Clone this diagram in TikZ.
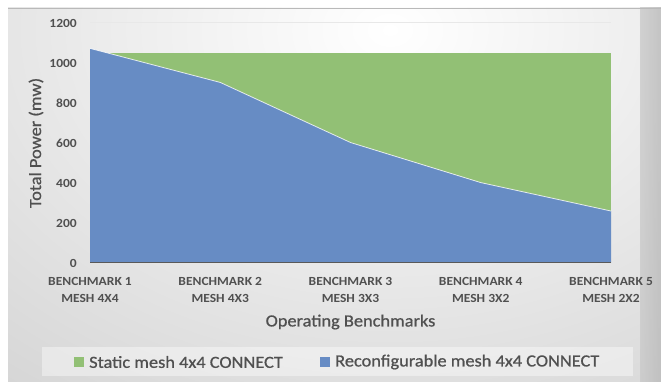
\documentclass[tikz,border=0pt]{standalone}
\usepackage{fontspec}
\setmainfont{Carlito}[FakeStretch=1.09]
\newfontfamily\titlefont{Carlito}[FakeStretch=1.08,FakeBold=0.8]
\definecolor{bgouter}{RGB}{202,202,202}
\definecolor{bgedge}{RGB}{186,186,186}
\definecolor{txt}{RGB}{80,80,80}
\definecolor{seriesblue}{RGB}{103,140,196}
\definecolor{seriesgreen}{RGB}{146,192,117}
\definecolor{gridc}{RGB}{232,232,232}
\tikzset{
  ticklab/.style={text=txt,font=\fontsize{12.4}{12}\selectfont\bfseries,inner sep=0pt},
  catlab/.style={text=txt,font=\fontsize{12.4}{16.5}\selectfont\bfseries,align=center,inner sep=0pt},
  titlelab/.style={text=txt,font=\titlefont\fontsize{17}{18}\selectfont,inner sep=0pt},
  leglab/.style={text=txt,font=\titlefont\fontsize{17}{18}\selectfont,inner sep=0pt,anchor=west},
  legkey/.style={minimum width=10pt,minimum height=10pt,inner sep=0pt},
}
\begin{document}
\begin{tikzpicture}[x=1pt,y=-1pt]
\useasboundingbox (0,0) rectangle (661,382);
\fill[white] (0,0) rectangle (661,382);
% background
\begin{scope}
  \clip (8,8) rectangle (661,382);
  \fill[bgouter] (8,8) rectangle (661,382);
  \shade[inner color=white,outer color=bgouter] (390,30) ellipse [x radius=800pt,y radius=580pt];
  \shade[left color=bgouter,right color=bgedge,opacity=0.8] (640,8) rectangle (661,382);
\end{scope}
\draw[gray!55,line width=0.8pt] (8,8.3) -- (661,8.3);
% gridlines
\foreach \v in {0,200,...,1200}{
  \draw[gridc,line width=0.8pt] (90,{262.7-0.2003*\v}) -- (611,{262.7-0.2003*\v});
}
% static series
\fill[seriesgreen] (90,{262.7-0.2003*1045}) rectangle (611,262.7);
% reconfigurable series
\coordinate (p1) at (90,{262.7-0.2003*1070});
\coordinate (p2) at (220.25,{262.7-0.2003*900});
\coordinate (p3) at (350.5,{262.7-0.2003*600});
\coordinate (p4) at (480.75,{262.7-0.2003*400});
\coordinate (p5) at (611,{262.7-0.2003*258});
\fill[seriesblue] (90,262.7) -- (p1) -- (p2) -- (p3) -- (p4) -- (p5) -- (611,262.7) -- cycle;
\draw[white,opacity=0.8,line width=0.8pt] (p1) -- (p2) -- (p3) -- (p4) -- (p5);
% x axis
\draw[black!65,line width=1pt] (90,262.7) -- (611,262.7);
% y tick labels
\foreach \v [count=\i] in {0,200,400,600,800,1000,1200}{
  \node[ticklab,anchor=east] (yt\i) at (77,{263.5-0.2003*\v}) {\v};
}
% category labels
\node[catlab] (b1) at (90,290) {BENCHMARK 1\\MESH 4X4};
\node[catlab] (b2) at (220.25,290) {BENCHMARK 2\\MESH 4X3};
\node[catlab] (b3) at (350.5,290) {BENCHMARK 3\\MESH 3X3};
\node[catlab] (b4) at (480.75,290) {BENCHMARK 4\\MESH 3X2};
\node[catlab] (b5) at (611,290) {BENCHMARK 5\\MESH 2X2};
% axis titles
\node[titlelab] (xt) at (350.5,322) {Operating Benchmarks};
\node[titlelab,rotate=90] (yt) at (36,143) {Total Power (mw)};
% legend
\fill[white,opacity=0.4] (42,347) rectangle (633,376);
\node[legkey,fill=seriesgreen] (k1) at (79,361.5) {};
\node[leglab] (l1) at (89,362) {Static mesh 4x4 CONNECT};
\node[legkey,fill=seriesblue] (k2) at (325,361.5) {};
\node[leglab] (l2) at (335,362) {Reconfigurable mesh 4x4 CONNECT};
\end{tikzpicture}
\end{document}
